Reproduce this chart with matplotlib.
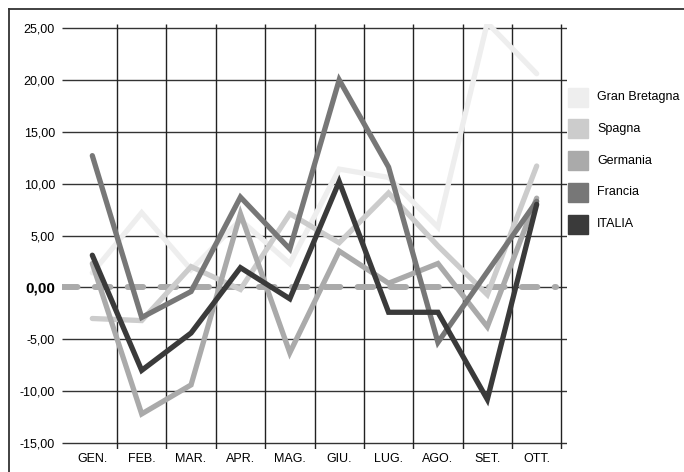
import numpy as np
import matplotlib.pyplot as plt
from matplotlib.patches import Rectangle
from matplotlib.lines import Line2D

plt.rcParams['font.family'] = ['Liberation Sans', 'DejaVu Sans']

months = ['GEN.', 'FEB.', 'MAR.', 'APR.', 'MAG.', 'GIU.', 'LUG.', 'AGO.', 'SET.', 'OTT.']
gran_bretagna = [1.4, 7.2, 1.7, 6.5, 2.3, 11.4, 10.6, 5.8, 25.5, 20.6]
spagna = [-3.0, -3.2, 2.0, -0.2, 7.1, 4.3, 9.1, 4.0, -0.7, 11.7]
germania = [2.3, -12.2, -9.4, 7.1, -6.3, 3.5, 0.4, 2.3, -3.8, 8.6]
francia = [12.7, -2.9, -0.4, 8.7, 3.7, 20.0, 11.6, -5.3, 1.5, 8.3]
italia = [3.1, -8.0, -4.4, 1.9, -1.1, 10.2, -2.4, -2.4, -10.8, 8.0]

series = [
    ('Gran Bretagna', gran_bretagna, '#eeeeee'),
    ('Spagna', spagna, '#cccccc'),
    ('Germania', germania, '#aaaaaa'),
    ('Francia', francia, '#777777'),
    ('ITALIA', italia, '#3a3a3a'),
]
yticks = [-15, -10, -5, 0, 5, 10, 15, 20, 25]

W, H = 684, 472
fig = plt.figure(figsize=(W / 100, H / 100), dpi=100)


def fx(px):
    return px / W


def fy(py):
    return 1 - py / H


ax = fig.add_axes([fx(61.7), fy(449.2), fx(567.3) - fx(61.7), fy(23.9) - fy(449.2)])
ax.set_xlim(-0.62, 9.62)
ax.set_ylim(-15.6, 25.4)
for s in ax.spines.values():
    s.set_visible(False)

x = np.arange(len(months))

# grid
ax.hlines(yticks, -0.61, 9.61, color='#333333', lw=1.0, zorder=1)
ax.vlines(x + 0.5, -15.58, 25.39, color='#222222', lw=1.0, zorder=1)

# zero line
ax.plot([-0.61, 9.4], [0, 0], color='#aaaaaa', lw=4.3, dashes=(2.6, 2.9),
        dash_capstyle='round', zorder=2)

for name, vals, col in series:
    ax.plot(x, vals, color=col, lw=3.8, solid_capstyle='round',
            solid_joinstyle='miter', zorder=3)

ax.set_xticks(x)
ax.set_xticklabels(months, fontsize=9)
ax.set_yticks(yticks)
ax.set_yticklabels([f'{v},00' for v in yticks], fontsize=9)
for lab in ax.get_yticklabels():
    if lab.get_text() == '0,00':
        lab.set_fontweight('bold')
        lab.set_fontsize(11)
ax.tick_params(axis='both', length=0, colors='black')
ax.tick_params(axis='y', pad=4.8)
ax.tick_params(axis='x', pad=3)

# legend
for i, (name, vals, col) in enumerate(series):
    cy = 97 + i * 31.8
    fig.patches.append(Rectangle((fx(568), fy(cy + 9.5)), fx(20), fy(0) - fy(19),
                                 transform=fig.transFigure, color=col))
    fig.text(fx(597), fy(cy), name, fontsize=9, va='center', ha='left')

# outer frame (top and left only visible)
fig.add_artist(Line2D([fx(9), 1], [fy(9), fy(9)], color='#333333', lw=1.3))
fig.add_artist(Line2D([fx(9), fx(9)], [fy(9), 0], color='#333333', lw=1.3))

fig.savefig('out.png', dpi=100)
